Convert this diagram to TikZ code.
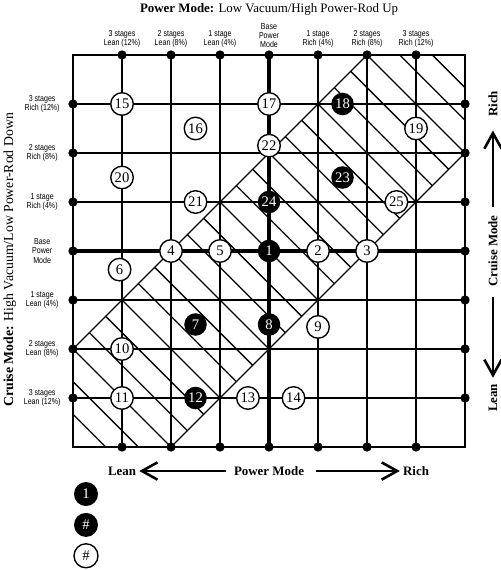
\documentclass[tikz,border=0pt]{standalone}
\usepackage{fontspec}
\setmainfont{Liberation Serif}
\newfontfamily\narrowsf[FakeStretch=0.82]{Liberation Sans}
\usetikzlibrary{arrows.meta}
\begin{document}
\begin{tikzpicture}[x=1cm,y=1cm,
  gl/.style={line width=1.1pt},
  bgl/.style={line width=1.8pt},
  hl/.style={line width=0.75pt},
  fdot/.style={circle, fill=black, inner sep=0pt, minimum size=0.19cm},
  wc/.style={circle, draw=black, line width=0.8pt, fill=white, inner sep=0pt, minimum size=0.46cm, font=\fontsize{8.5}{9}\selectfont},
  bc/.style={circle, fill=black, text=white, inner sep=0pt, minimum size=0.46cm, font=\fontsize{8.5}{9}\selectfont},
  lwc/.style={wc, minimum size=0.49cm},
  lbc/.style={bc, minimum size=0.49cm},
  clab/.style={font=\narrowsf\fontsize{5}{5.3}\selectfont, align=center, inner sep=0pt},
  ttl/.style={font=\fontsize{7.5}{9}\selectfont, inner sep=0pt},
  dirl/.style={font=\bfseries\fontsize{7.5}{9}\selectfont, inner sep=0pt},
  arr/.style={line width=1.5pt, -{Straight Barb[length=9pt,width=10pt]}},
]
\useasboundingbox (-1.49,-2.51) rectangle (8.714,9.122);

% hatched band
\begin{scope}
  \clip (0,0) -- (2,0) -- (8,6) -- (8,8) -- (6,8) -- (0,2) -- cycle;
  \foreach \k in {1,...,23} \draw[hl] ({2*\k/3},0) -- ++(-8,8);
\end{scope}

% frame
\draw[gl] (0,0) rectangle (8,8);

% frame dots
\foreach \i in {1,...,7} {
  \node[fdot] (t\i) at (\i,8) {};
  \node[fdot] (b\i) at (\i,0) {};
  \node[fdot] (l\i) at (0,\i) {};
  \node[fdot] (r\i) at (8,\i) {};
}

% grid lines
\foreach \i in {1,2,3,5,6,7} {
  \draw[gl] (b\i.center) -- (t\i.center);
  \draw[gl] (l\i.center) -- (r\i.center);
}
\draw[bgl] (b4.center) -- (t4.center);
\draw[bgl] (l4.center) -- (r4.center);
\draw[hl] (l2.center) -- (t6.center);
\draw[hl] (b2.center) -- (r6.center);

% numbered circles
\node[bc] (n1) at (4,4) {1};
\node[wc] (n2) at (5,4) {2};
\node[wc] (n3) at (6,4) {3};
\node[wc] (n4) at (2,4) {4};
\node[wc] (n5) at (3,4) {5};
\node[wc] (n6) at (0.95,3.62) {6};
\node[bc] (n7) at (2.5,2.5) {7};
\node[bc] (n8) at (4,2.5) {8};
\node[wc] (n9) at (5,2.45) {9};
\node[wc] (n10) at (1,2) {10};
\node[wc] (n11) at (1,1) {11};
\node[bc] (n12) at (2.5,1) {12};
\node[wc] (n13) at (3.57,1) {13};
\node[wc] (n14) at (4.5,1) {14};
\node[wc] (n15) at (1,7) {15};
\node[wc] (n16) at (2.5,6.5) {16};
\node[wc] (n17) at (4,7) {17};
\node[bc] (n18) at (5.5,7) {18};
\node[wc] (n19) at (7,6.5) {19};
\node[wc] (n20) at (1,5.5) {20};
\node[wc] (n21) at (2.5,5) {21};
\node[wc] (n22) at (4,6.15) {22};
\node[bc] (n23) at (5.5,5.5) {23};
\node[bc] (n24) at (4,5) {24};
\node[wc] (n25) at (6.6,5) {25};

% column labels
\node[clab, anchor=south] (c1) at (1,8.14) {3 stages\\Lean (12\%)};
\node[clab, anchor=south] (c2) at (2,8.14) {2 stages\\Lean (8\%)};
\node[clab, anchor=south] (c3) at (3,8.14) {1 stage\\Lean (4\%)};
\node[clab, anchor=south] (c4) at (4,8.14) {Base\\Power\\Mode};
\node[clab, anchor=south] (c5) at (5,8.14) {1 stage\\Rich (4\%)};
\node[clab, anchor=south] (c6) at (6,8.14) {2 stages\\Rich (8\%)};
\node[clab, anchor=south] (c7) at (7,8.14) {3 stages\\Rich (12\%)};

% row labels
\node[clab] (w7) at (-0.63,7) {3 stages\\Rich (12\%)};
\node[clab] (w6) at (-0.63,6) {2 stages\\Rich (8\%)};
\node[clab] (w5) at (-0.63,5) {1 stage\\Rich (4\%)};
\node[clab] (w4) at (-0.63,4) {Base\\Power\\Mode};
\node[clab] (w3) at (-0.63,3) {1 stage\\Lean (4\%)};
\node[clab] (w2) at (-0.63,2) {2 stages\\Lean (8\%)};
\node[clab] (w1) at (-0.63,1) {3 stages\\Lean (12\%)};

% titles
\node[ttl] (title) at (4,8.94) {\textbf{Power Mode:} Low Vacuum/High Power-Rod Up};
\node[ttl, font=\fontsize{8}{9}\selectfont, rotate=90] (ltitle) at (-1.29,3.82) {\textbf{Cruise Mode:} High Vacuum/Low Power-Rod Down};

% bottom direction labels
\node[dirl] (bl) at (1,-0.49) {Lean};
\node[dirl] (bp) at (4,-0.49) {Power Mode};
\node[dirl] (br) at (7,-0.49) {Rich};
\draw[arr, shorten <=0.16cm, shorten >=0.06cm] (bp) -- (bl);
\draw[arr, shorten <=0.24cm, shorten >=0.06cm] (bp) -- (br);

% right direction labels
\node[dirl, rotate=90] (rr) at (8.57,7) {Rich};
\node[dirl, rotate=90] (rc) at (8.57,4) {Cruise Mode};
\node[dirl, rotate=90] (rl) at (8.57,1) {Lean};
\draw[arr, shorten <=0.16cm, shorten >=0.27cm] (rc) -- (rr);
\draw[arr, shorten <=0.2cm, shorten >=0.12cm] (rc) -- (rl);

% legend
\node[lbc] (g1) at (0.265,-0.96) {1};
\node[lbc] (g2) at (0.265,-1.59) {\#};
\node[lwc] (g3) at (0.265,-2.22) {\#};
\end{tikzpicture}
\end{document}
